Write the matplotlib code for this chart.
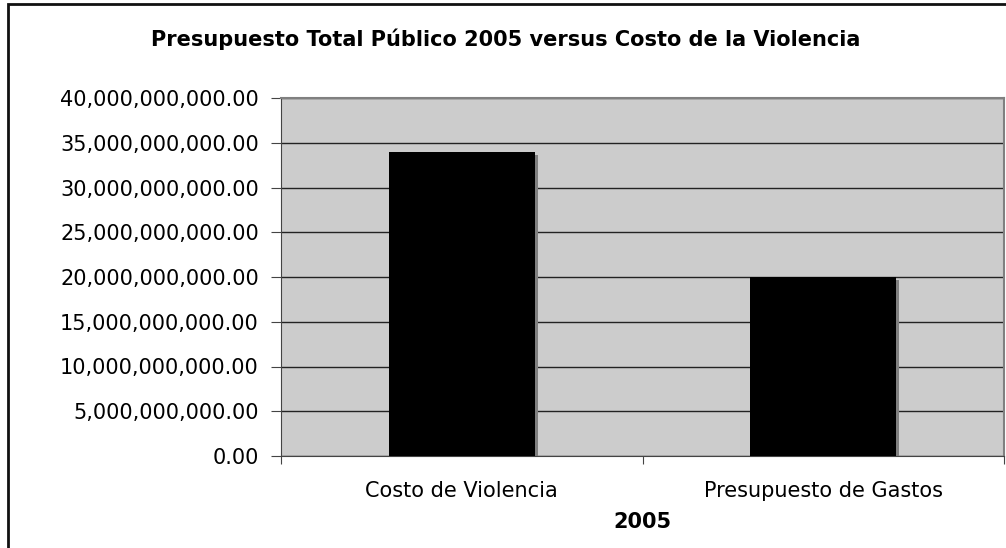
import matplotlib.pyplot as plt
from matplotlib.patches import Rectangle
from matplotlib.ticker import FuncFormatter

categories = ["Costo de Violencia", "Presupuesto de Gastos"]
values = [34000000000, 20000000000]
yticks = [0, 5e9, 10e9, 15e9, 20e9, 25e9, 30e9, 35e9, 40e9]

fig = plt.figure(figsize=(10.06, 5.48), dpi=100)
# chart frame (right and bottom edges run off the image)
fig.patches.append(Rectangle((7.5 / 1006, -0.1), 1.1, 1.1 - 4 / 548, transform=fig.transFigure,
                             fill=False, edgecolor="#111111", linewidth=2))

ax = fig.add_axes([281 / 1006, 92 / 548, 723 / 1006, 358 / 548])
ax.set_facecolor("#cccccc")

x = range(len(categories))
w = 0.404
# shadow offset in data units (about 3 px)
dx = 0.0085
dy = 0.33e9
ax.bar([i + dx for i in x], [v - dy for v in values], width=w, color="#808080", zorder=2)
ax.bar(x, values, width=w, color="black", zorder=3)

ax.set_xlim(-0.5, 1.5)
ax.set_ylim(0, 40e9)
ax.set_yticks(yticks)
ax.yaxis.set_major_formatter(FuncFormatter(lambda v, p: f"{v:,.2f}"))
ax.yaxis.grid(True, color="#222222", linewidth=1)
ax.set_axisbelow(True)

ax.set_xticks([-0.5, 0.5, 1.5])
ax.set_xticklabels([])
ax.set_xticks(list(x), minor=True)
ax.set_xticklabels(categories, minor=True)
ax.tick_params(axis="x", which="minor", length=0, labelsize=15, pad=18)
ax.tick_params(axis="x", which="major", length=6, color="#444444")
ax.tick_params(axis="y", length=7, labelsize=15, pad=9, color="#444444")

for s in ["left", "bottom"]:
    ax.spines[s].set_color("#444444")
for s in ["top", "right"]:
    ax.spines[s].set_color("#808080")
    ax.spines[s].set_linewidth(1.5)

ax.set_xlabel("2005", fontsize=15, fontweight="bold", labelpad=8)
fig.suptitle("Presupuesto Total Público 2005 versus Costo de la Violencia",
             fontsize=15, fontweight="bold", x=0.503, y=0.948)

fig.savefig("out.png", dpi=100)
